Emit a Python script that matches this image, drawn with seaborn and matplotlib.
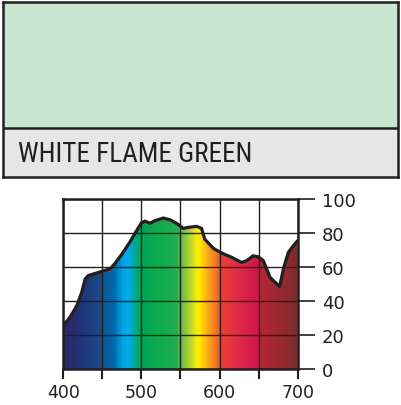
import numpy as np
import matplotlib
matplotlib.use("Agg")
import matplotlib.pyplot as plt
import seaborn as sns
from matplotlib.colors import LinearSegmentedColormap, Normalize
from matplotlib.patches import Polygon

# ---- data ----
wavelength = [400, 408.5, 417, 423.5, 428, 432, 443, 460, 466, 475, 485, 492, 500,
              504.5, 511, 517, 528, 536.5, 545, 553.5, 560, 570.6, 577, 581, 592,
              602.7, 615.5, 628, 634.7, 643, 649.6, 656, 664.5, 671, 677, 681.6,
              688, 694.4, 700]
transmission = [25.5, 30.4, 37, 45, 53, 55, 56.5, 59, 62, 67.6, 74.5, 80, 86,
                87, 85.7, 87.2, 88.8, 87.8, 85.7, 82.7, 83.3, 83.9, 82.7, 76.4, 71,
                68.2, 65.7, 62.7, 63.7, 66.6, 66, 63.7, 54, 51, 48.6, 58.8,
                68.6, 72.5, 75.5]
x_ticks = [400, 450, 500, 550, 600, 650, 700]
x_labels = ["400", "", "500", "", "600", "", "700"]
y_ticks = [0, 20, 40, 60, 80, 100]
y_labels = ["0", "20", "40", "60", "80", "100"]
title = "WHITE FLAME GREEN"
swatch_color = "#c8e5cf"
label_bg = "#e6e6e6"
ink = "#231f20"

spectrum_stops = [400, 415, 430, 450, 453, 465, 476, 483, 491, 500, 545, 552, 565,
                  572, 578, 586, 595, 602, 625, 648, 652, 700]
spectrum_colors = ["#2b2a6b", "#272d70", "#1d3b7d", "#1b4b89", "#0a5a9a", "#0069ab",
                   "#00a4e0", "#00aeef", "#00a99d", "#00a651", "#1fae4f", "#6cbf45",
                   "#c9da2a", "#fff200", "#ffd400", "#f9a51b", "#f47b20", "#ef4136",
                   "#e0284a", "#d0174b", "#b92436", "#7b2d2d"]

# ---- style ----
sns.set_theme(style="white")
plt.rcParams['font.family'] = ['DejaVu Sans']

W, H = 402, 406
fig = plt.figure(figsize=(W / 100, H / 100), dpi=100)
fig.patch.set_facecolor("white")

# ---- top swatch box ----
bx0, by0, bx1, by1 = 3, 3, 398, 178
box = fig.add_axes([bx0 / W, 1 - by1 / H, (bx1 - bx0) / W, (by1 - by0) / H])
box.set_xlim(0, bx1 - bx0)
box.set_ylim(by1 - by0, 0)
box.set_xticks([]); box.set_yticks([])
box.axhspan(0, 125.5, color=swatch_color, lw=0)
box.axhspan(125.5, by1 - by0, color=label_bg, lw=0)
box.axhline(125.5, color=ink, lw=1.8)
for s in box.spines.values():
    s.set_visible(True)
    s.set_color(ink)
    s.set_linewidth(1.8)
box.text(15, 159.5, title, fontsize=19.5, color=ink,
         family=['Roboto Condensed', 'Archivo Narrow', 'Liberation Sans Narrow', 'DejaVu Sans'],
         ha='left', va='baseline')

# ---- spectrum chart ----
ax = fig.add_axes([63.3 / W, 36 / H, 234.4 / W, 170 / H])
ax.set_facecolor("white")
ax.set_xlim(400, 700)
ax.set_ylim(0, 100)

pos = [(s - 400) / 300 for s in spectrum_stops]
cmap = LinearSegmentedColormap.from_list("spec", list(zip(pos, spectrum_colors)), N=512)
grad = np.linspace(400, 700, 900).reshape(1, -1)
im = ax.imshow(grad, extent=[400, 700, 0, 100], aspect='auto', cmap=cmap,
               norm=Normalize(400, 700), origin='lower', zorder=1, interpolation='bilinear')
verts = [(400, 0)] + list(zip(wavelength, transmission)) + [(700, 0)]
clip = Polygon(verts, closed=True, transform=ax.transData, facecolor='none', edgecolor='none')
ax.add_patch(clip)
im.set_clip_path(clip)

sns.lineplot(x=wavelength, y=transmission, ax=ax, color=ink, linewidth=2.3,
             zorder=4, sort=False)

ax.set_axisbelow(False)
ax.grid(True, color=ink, linewidth=1.0)
ax.set_xticks(x_ticks)
ax.set_xticklabels(x_labels)
ax.set_yticks(y_ticks)
ax.set_yticklabels(y_labels)
ax.yaxis.tick_right()
ax.tick_params(axis='x', bottom=True, direction='out', length=7.5, width=1.5,
               pad=2.5, labelsize=12.5, colors=ink)
ax.tick_params(axis='y', right=True, left=False, direction='out', length=12.5,
               width=1.2, pad=5, labelsize=13, colors=ink)
for s in ax.spines.values():
    s.set_visible(True)
    s.set_color(ink)
    s.set_linewidth(1.8)
ax.set_xlabel("")
ax.set_ylabel("")

fig.savefig("out.png", dpi=100)
